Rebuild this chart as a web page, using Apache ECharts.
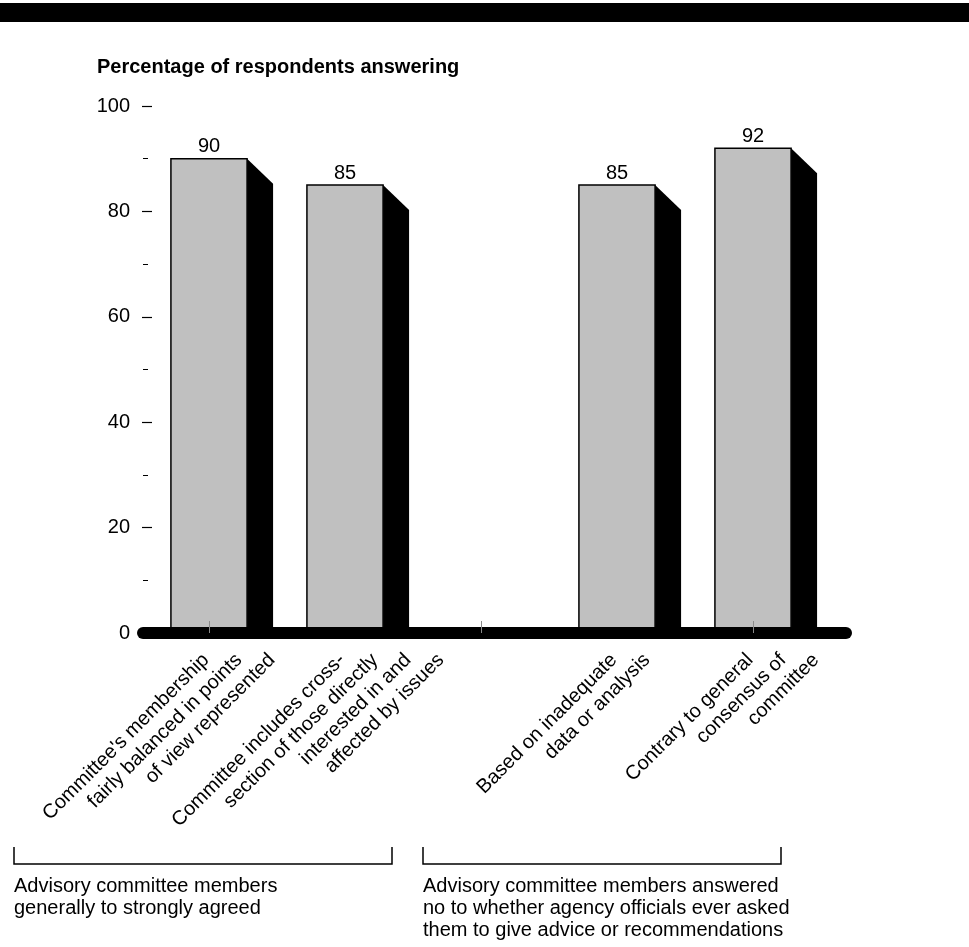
<!DOCTYPE html>
<html>
<head>
<meta charset="utf-8">
<script src="https://cdn.jsdelivr.net/npm/echarts@6.0.0/dist/echarts.min.js"></script>
<style>
  html, body { margin: 0; padding: 0; background: #fff; }
  #chart { width: 969px; height: 947px; }
</style>
</head>
<body>
<div id="chart"></div>
<script>
// ---- data ----
const categoryLabels = [
  "Committee's membership\nfairly balanced in points\nof view represented",
  "Committee includes cross-\nsection of those directly\ninterested in and\naffected by issues",
  "",
  "Based on inadequate\ndata or analysis",
  "Contrary to general\nconsensus of\ncommittee"
];
const percentValues = [90, 85, null, 85, 92];
const yAxisMin = 0;
const yAxisMax = 100;
const yAxisStep = 20;
const yMinorStep = 10;
const chartTitle = "Percentage of respondents answering";
const groupNotes = [
  "Advisory committee members\ngenerally to strongly agreed",
  "Advisory committee members answered\nno to whether agency officials ever asked\nthem to give advice or recommendations"
];

// ---- rendering ----
const FONT_FAMILY = '"Liberation Sans", Arial, Helvetica, sans-serif';
const FONT = '20px ' + FONT_FAMILY;

const barData = [];
percentValues.forEach((v, i) => { if (v !== null) barData.push([i, v]); });
const labelData = categoryLabels.map((t, i) => [i, 0]);

function renderBar(params, api) {
  const idx = api.value(0);
  const val = api.value(1);
  const top = api.coord([idx, val]);
  const base = api.coord([idx, 0]);
  const band = api.size([1, 0])[0];
  const w = band * 0.56;
  const x0 = top[0] - w / 2;
  const x1 = top[0] + w / 2;
  const sdx = 26, sdy = 25;
  return {
    type: 'group',
    children: [
      {
        type: 'polygon',
        shape: { points: [[x1, top[1]], [x1 + sdx, top[1] + sdy], [x1 + sdx, base[1]], [x1, base[1]]] },
        style: { fill: '#000' }
      },
      {
        type: 'rect',
        shape: { x: x0, y: top[1], width: w, height: base[1] - top[1] },
        style: { fill: '#c0c0c0', stroke: '#000', lineWidth: 1.5 }
      },
      {
        type: 'text',
        x: top[0],
        y: top[1] - 12,
        style: { text: String(val), align: 'center', verticalAlign: 'middle', font: FONT, fill: '#000' }
      }
    ]
  };
}

function renderCatLabel(params, api) {
  const idx = api.value(0);
  const pt = api.coord([idx, 0]);
  const lines = categoryLabels[idx] ? categoryLabels[idx].split('\n') : [];
  const children = lines.map((ln, k) => ({
    type: 'text',
    x: pt[0] - 3 + 33 * k,
    y: pt[1] + 24,
    rotation: Math.PI / 4,
    style: { text: ln, align: 'right', verticalAlign: 'middle', font: FONT, fill: '#000' }
  }));
  return { type: 'group', children: children };
}

const chart = echarts.init(document.getElementById('chart'), null, { renderer: 'canvas' });

const option = {
  backgroundColor: '#fff',
  animation: false,
  title: {
    text: chartTitle,
    left: 97,
    top: 57,
    padding: 0,
    textStyle: { fontSize: 20, fontWeight: 'bold', color: '#000', fontFamily: FONT_FAMILY }
  },
  grid: [
    { left: 141, right: 148, top: 106, bottom: 314, containLabel: false },
    { left: 143, right: 123, top: 106, bottom: 314, containLabel: false }
  ],
  xAxis: [
    {
      gridIndex: 0,
      type: 'category',
      data: categoryLabels,
      boundaryGap: true,
      z: 10,
      axisLine: { show: false },
      axisTick: { show: true, inside: true, alignWithLabel: true, length: 12, lineStyle: { color: '#8a8a8a', width: 1 } },
      axisLabel: { show: false },
      splitLine: { show: false }
    },
    {
      gridIndex: 1,
      type: 'value',
      min: 0,
      max: 1,
      z: 9,
      axisLine: { show: true, lineStyle: { color: '#000', width: 12, cap: 'round' } },
      axisTick: { show: false },
      axisLabel: { show: false },
      splitLine: { show: false }
    }
  ],
  yAxis: [
    {
      gridIndex: 0,
      type: 'value',
      min: yAxisMin,
      max: yAxisMax,
      interval: yAxisStep,
      offset: -11,
      axisLine: { show: false },
      axisTick: { show: true, length: 10, lineStyle: { color: '#000', width: 1.2 } },
      splitLine: { show: false },
      axisLabel: { margin: 22, fontSize: 20, color: '#000', fontFamily: FONT_FAMILY }
    },
    {
      gridIndex: 1,
      type: 'value',
      min: 0,
      max: 1,
      show: false
    },
    {
      gridIndex: 0,
      type: 'value',
      position: 'left',
      min: yAxisMin,
      max: yAxisMax,
      interval: yMinorStep,
      offset: -7,
      axisLine: { show: false },
      axisTick: { show: true, length: 5, lineStyle: { color: '#000', width: 1 } },
      splitLine: { show: false },
      axisLabel: { show: false }
    }
  ],
  graphic: [
    { type: 'rect', left: 0, top: 3, shape: { x: 0, y: 0, width: 969, height: 19 }, style: { fill: '#000' } },
    { type: 'polyline', shape: { points: [[14, 847], [14, 864], [392, 864], [392, 847]] }, style: { stroke: '#000', lineWidth: 1.5, fill: null } },
    { type: 'polyline', shape: { points: [[423, 847], [423, 864], [781, 864], [781, 847]] }, style: { stroke: '#000', lineWidth: 1.5, fill: null } },
    { type: 'text', x: 14, y: 875, style: { text: groupNotes[0], font: FONT, fill: '#000', lineHeight: 22, align: 'left', verticalAlign: 'top' } },
    { type: 'text', x: 423, y: 875, style: { text: groupNotes[1], font: FONT, fill: '#000', lineHeight: 22, align: 'left', verticalAlign: 'top' } }
  ],
  series: [
    {
      type: 'custom',
      name: 'bars',
      coordinateSystem: 'cartesian2d',
      xAxisIndex: 0,
      yAxisIndex: 0,
      clip: false,
      z: 2,
      renderItem: renderBar,
      data: barData
    },
    {
      type: 'custom',
      name: 'categoryLabels',
      coordinateSystem: 'cartesian2d',
      xAxisIndex: 0,
      yAxisIndex: 0,
      clip: false,
      z: 3,
      renderItem: renderCatLabel,
      data: labelData
    }
  ]
};

chart.setOption(option);
</script>
</body>
</html>
